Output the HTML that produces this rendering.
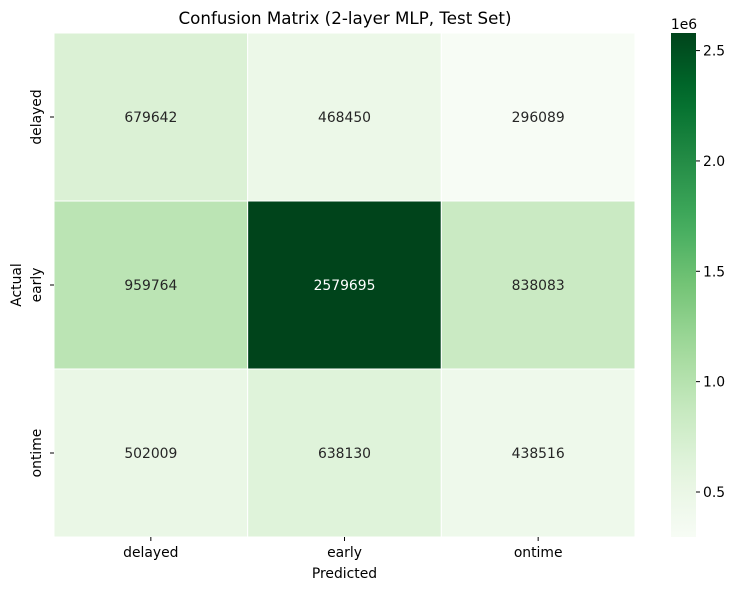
<!DOCTYPE html>
<html><head><meta charset="utf-8"><style>
body{margin:0;background:#fff;font-family:"Liberation Sans","DejaVu Sans",sans-serif;}
svg text{font-family:"DejaVu Sans","Liberation Sans",sans-serif;}
</style></head><body>
<svg id="chart" width="737" height="590" xmlns="http://www.w3.org/2000/svg">
<text x="345" y="24" font-size="16.7" text-anchor="middle" fill="#000">Confusion Matrix (2-layer MLP, Test Set)</text>
<g id="cells"></g>
<g id="axes"></g>
<defs><linearGradient id="cbgrad" x1="0" y1="1" x2="0" y2="0"></linearGradient></defs>
<g id="cbar"></g>
</svg>
<script>
const rowLabels = ["delayed","early","ontime"];
const colLabels = ["delayed","early","ontime"];
const rowDelayed = [679642, 468450, 296089];
const rowEarly = [959764, 2579695, 838083];
const rowOntime = [502009, 638130, 438516];
const cbTicks = [0.5, 1.0, 1.5, 2.0, 2.5];

const matrix = [rowDelayed, rowEarly, rowOntime];
const NS = "http://www.w3.org/2000/svg";
const X0 = 54, X1 = 635, Y0 = 33, Y1 = 537;
const CB0 = 671, CB1 = 696;
const FS = 13.9;
const all = matrix.flat();
const vmin = Math.min(...all), vmax = Math.max(...all);
const stops = ["#f7fcf5","#e5f5e0","#c7e9c0","#a1d99b","#74c476","#41ab5d","#238b45","#006d2c","#00441b"];
function hex(h){return [1,3,5].map(i=>parseInt(h.substr(i,2),16));}
function cmap(t){
  t = Math.max(0, Math.min(1, t));
  const p = t*(stops.length-1), i = Math.min(Math.floor(p), stops.length-2), f = p-i;
  const a = hex(stops[i]), b = hex(stops[i+1]);
  return a.map((v,k)=>Math.round(v+(b[k]-v)*f));
}
const nR = rowLabels.length, nC = colLabels.length;
const cw = (X1-X0)/nC, ch = (Y1-Y0)/nR;
const xPos = c => X0 + c*cw;
const yPos = r => Y0 + r*ch;
const cbY = v => Y1 - (v - vmin)/(vmax - vmin)*(Y1-Y0);
function mk(tag, attrs, parent){const e=document.createElementNS(NS,tag);for(const k in attrs)e.setAttribute(k,attrs[k]);parent.appendChild(e);return e;}
const cells = document.getElementById("cells"), axes = document.getElementById("axes"), cbar = document.getElementById("cbar");
for (let r=0;r<nR;r++) for (let c=0;c<nC;c++){
  const v = matrix[r][c], rgb = cmap((v-vmin)/(vmax-vmin));
  const rect = mk("rect",{x:xPos(c),y:yPos(r),width:cw,height:ch,fill:`rgb(${rgb})`,stroke:"#fff","stroke-width":1},cells);
  
  
  const lum = (0.299*rgb[0]+0.587*rgb[1]+0.114*rgb[2]);
  const t = mk("text",{x:xPos(c)+cw/2,y:yPos(r)+ch/2+5,"font-size":FS,"text-anchor":"middle",fill:lum<128?"#fff":"#262626"},cells);
  t.textContent = v;
  
  
}
colLabels.forEach((l,c)=>{
  const x = xPos(c)+cw/2;
  mk("line",{x1:x,x2:x,y1:Y1,y2:Y1+4,stroke:"#000"},axes);
  const t = mk("text",{x:x,y:Y1+20,"font-size":FS,"text-anchor":"middle"},axes);
  t.textContent = l;
  
  
});
rowLabels.forEach((l,r)=>{
  const y = yPos(r)+ch/2;
  mk("line",{x1:X0-4,x2:X0,y1:y,y2:y,stroke:"#000"},axes);
  const t = mk("text",{x:0,y:0,"font-size":FS,"text-anchor":"middle",transform:`translate(41,${y}) rotate(-90)`},axes);
  t.textContent = l;
  
  
});
const xt = mk("text",{x:(X0+X1)/2,y:578,"font-size":FS,"text-anchor":"middle"},axes);
xt.textContent = "Predicted";


const yt = mk("text",{x:0,y:0,"font-size":FS,"text-anchor":"middle",transform:`translate(21,${(Y0+Y1)/2}) rotate(-90)`},axes);
yt.textContent = "Actual";


// colorbar
const grad = document.getElementById("cbgrad");
for (let i=0;i<=20;i++){ mk("stop",{offset:(i/20),"stop-color":`rgb(${cmap(i/20)})`},grad); }
const cb = mk("rect",{x:CB0,y:Y0,width:CB1-CB0,height:Y1-Y0,fill:"url(#cbgrad)"},cbar);


cbTicks.forEach(v=>{
  const y = cbY(v*1e6);
  mk("line",{x1:CB1,x2:CB1+4,y1:y,y2:y,stroke:"#000"},cbar);
  const t = mk("text",{x:CB1+7,y:y+5,"font-size":FS},cbar);
  t.textContent = v.toFixed(1);
  
  
});
const off = mk("text",{x:CB1-12,y:Y0-4,"font-size":FS,"text-anchor":"middle"},cbar);
off.textContent = "1e6";


</script>
</body></html>
